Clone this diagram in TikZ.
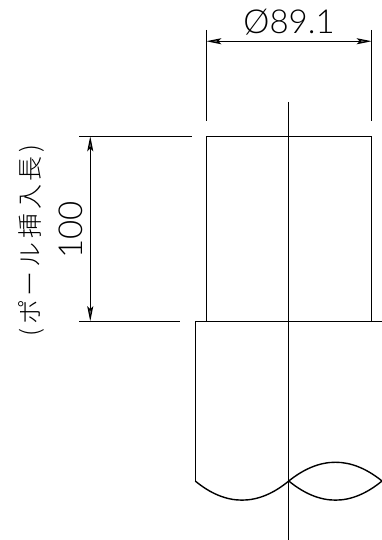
\documentclass[tikz,border=0pt]{standalone}
\usepackage{fontspec}
\setmainfont{Lato Light}
\newfontfamily\jpfont[LetterSpace=15]{Noto Sans CJK JP Light}
\usetikzlibrary{arrows.meta}
\tikzset{
  outline/.style={line width=1.4pt,black},
  dimtip/.tip={Stealth[inset=3pt,length=15pt,width=6pt,fill=black!55]},
  dimline/.style={line width=1.2pt,black,dimtip-dimtip},
  extline/.style={line width=1.4pt,black},
  dimtext/.style={inner sep=0pt,font=\fontsize{33}{33}\selectfont},
  jptext/.style={inner sep=0pt,rotate=90,font=\jpfont\fontsize{25}{25}\selectfont}
}
\begin{document}
\begin{tikzpicture}[x=1pt,y=-1pt]
  \useasboundingbox (0,0) rectangle (382,540);
  % dimension points
  \coordinate (widthL) at (206.25,41.25);
  \coordinate (widthR) at (371.75,41.25);
  \coordinate (extLa) at (206.25,30);
  \coordinate (extLb) at (206.25,121);
  \coordinate (extRa) at (371.75,30);
  \coordinate (extRb) at (371.75,121);
  \coordinate (heightT) at (90.25,136.25);
  \coordinate (heightB) at (90.25,321.25);
  \coordinate (extTa) at (79,136.25);
  \coordinate (extTb) at (192,136.25);
  \coordinate (extBa) at (79,321.25);
  \coordinate (extBb) at (180,321.25);
  % pole and pipe
  \coordinate (poleTL) at (206.25,136.25);
  \coordinate (poleTR) at (371.75,136.25);
  \coordinate (poleBL) at (206.25,321.25);
  \coordinate (poleBR) at (371.75,321.25);
  \coordinate (pipeTL) at (195.25,321.25);
  \coordinate (pipeTR) at (382,321.25);
  \coordinate (pipeBL) at (195.25,481);
  \coordinate (pipeBC) at (288.75,481);
  \coordinate (pipeBR) at (382,481);
  \coordinate (axisT) at (288.75,102);
  \coordinate (axisB) at (288.75,540);

  \draw[outline] (poleBL) -- (poleTL) -- (poleTR) -- (poleBR);
  \draw[outline] (pipeTR) -- (pipeTL) -- (pipeBL);
  \draw[outline] (pipeBL) .. controls (226,506.5) and (258,506.5) .. (pipeBC);
  \draw[outline] (pipeBC) .. controls (320,506.5) and (351,506.5) .. (pipeBR);
  \draw[outline] (pipeBC) .. controls (320,456) and (351,456) .. (pipeBR);
  \draw[outline] (axisT) -- (axisB);

  \draw[extline] (extLa) -- (extLb);
  \draw[extline] (extRa) -- (extRb);
  \draw[extline] (extTa) -- (extTb);
  \draw[extline] (extBa) -- (extBb);
  \draw[dimline] (widthL) -- (widthR);
  \draw[dimline] (heightT) -- (heightB);

  \node[dimtext] (widthtext) at (289,22) {Ø89.1};
  \node[dimtext,rotate=90] (heighttext) at (71,230) {100};
  \node[jptext] (jptitle) at (31,240.5) {(ポール挿入長)};
\end{tikzpicture}
\end{document}
